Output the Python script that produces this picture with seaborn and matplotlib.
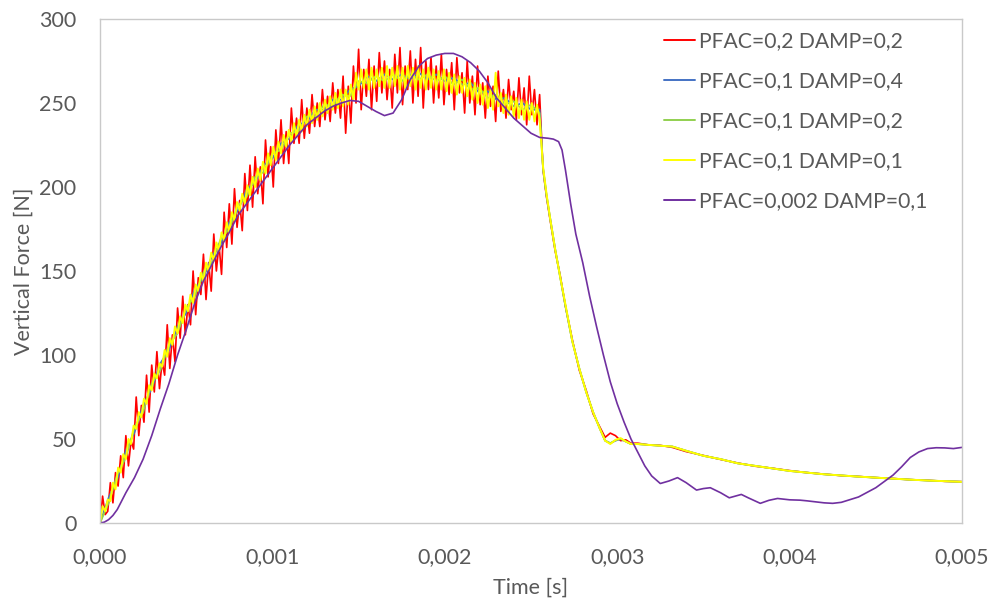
import numpy as np
import pandas as pd
import matplotlib
matplotlib.use("Agg")
import matplotlib.pyplot as plt
from matplotlib.ticker import MultipleLocator, FuncFormatter
from matplotlib.lines import Line2D
import seaborn as sns

# ---------------------------------------------------------------------------
# Simulation output: vertical contact force vs. time for five PFAC/DAMP runs
# ---------------------------------------------------------------------------
labels = ["PFAC=0,2 DAMP=0,2", "PFAC=0,1 DAMP=0,4", "PFAC=0,1 DAMP=0,2",
          "PFAC=0,1 DAMP=0,1", "PFAC=0,002 DAMP=0,1"]
colors = ["#FF0000", "#4472C4", "#92D050", "#FFFF00", "#7030A0"]
widths = [1.2, 1.3, 1.3, 1.4, 1.2]

# loading phase of the oscillating runs, written every 15 microseconds (0 .. 2.55 ms)
dt_fine = 1.5e-5
t_fine = np.round(np.arange(171) * dt_fine, 7)

f_pfac02_damp02 = [
    0, 16, 5, 7, 24, 12, 30, 22, 40, 27,
    52, 34, 49, 44, 75, 52, 70, 60, 88, 66,
    94, 78, 102, 80, 96, 88, 118, 92, 112, 96,
    128, 110, 135, 112, 130, 118, 150, 124, 146, 136,
    160, 133, 155, 138, 172, 150, 166, 148, 185, 164,
    190, 166, 199, 176, 192, 174, 208, 186, 213, 188,
    218, 196, 212, 190, 228, 206, 224, 200, 234, 214,
    240, 214, 233, 214, 247, 226, 241, 226, 252, 229,
    247, 232, 255, 236, 250, 236, 258, 240, 254, 239,
    262, 244, 258, 241, 266, 232, 260, 238, 272, 250,
    282, 246, 270, 254, 276, 246, 272, 251, 280, 256,
    275, 252, 270, 247, 279, 256, 283, 249, 272, 258,
    281, 250, 276, 254, 283, 247, 275, 258, 277, 250,
    272, 253, 279, 249, 270, 255, 274, 246, 277, 256,
    268, 244, 275, 250, 266, 243, 272, 249, 262, 241,
    266, 248, 260, 239, 269, 245, 258, 241, 264, 246,
    257, 240, 265, 243, 259, 237, 266, 243, 258, 237,
    255,
]

f_pfac01_damp01 = [
    0, 10, 7, 14, 13, 24, 20, 33, 30, 41,
    38, 50, 47, 58, 56, 66, 63, 74, 71, 82,
    79, 89, 86, 95, 93, 103, 99, 110, 106, 117,
    113, 123, 119, 130, 126, 136, 131, 142, 138, 149,
    144, 155, 150, 161, 156, 167, 162, 173, 168, 179,
    173, 185, 180, 191, 186, 196, 190, 201, 195, 206,
    200, 211, 204, 215, 208, 220, 213, 224, 216, 227,
    220, 231, 224, 234, 227, 238, 230, 240, 233, 243,
    236, 246, 238, 248, 240, 250, 242, 252, 244, 254,
    246, 256, 247, 258, 248, 258, 249, 261, 252, 268,
    258, 270, 259, 270, 258, 271, 259, 270, 260, 271,
    259, 272, 259, 271, 260, 272, 258, 271, 259, 272,
    260, 271, 258, 272, 259, 270, 258, 271, 259, 270,
    258, 269, 258, 270, 257, 268, 256, 267, 255, 266,
    256, 265, 254, 264, 252, 262, 250, 261, 249, 260,
    247, 258, 246, 268, 248, 256, 244, 255, 243, 254,
    242, 253, 241, 252, 240, 251, 240, 250, 239, 249,
    240,
]

# the two smoother runs, written every 50 microseconds (0 .. 2.55 ms)
dt_coarse = 5e-5
t_coarse = np.round(np.arange(52) * dt_coarse, 7)

f_pfac01_damp04 = [
    0, 15, 26, 43, 54, 70, 80, 95, 103, 117,
    125, 139, 146, 159, 166, 179, 186, 198, 203, 213,
    217, 226, 229, 237, 239, 246, 246, 252, 252, 258,
    260, 266, 263, 267, 264, 267, 264, 268, 264, 267,
    263, 265, 261, 262, 256, 257, 252, 253, 248, 250,
    246, 246,
]

f_pfac01_damp02 = [
    0, 12, 29, 39, 57, 66, 83, 91, 106, 113,
    128, 135, 149, 155, 169, 175, 189, 194, 206, 209,
    220, 222, 232, 233, 242, 242, 249, 248, 255, 254,
    263, 262, 266, 263, 267, 263, 267, 264, 267, 263,
    266, 261, 264, 258, 259, 253, 255, 249, 251, 246,
    249, 244,
]

# unloading phase shared by the four PFAC >= 0.1 runs
t_tail = [0.00257, 0.00259, 0.00261, 0.00264, 0.00267, 0.0027, 0.00274, 0.00278,
          0.00282, 0.00286, 0.0029, 0.00293, 0.00296, 0.00299, 0.00302, 0.00305,
          0.00308, 0.00312, 0.00318, 0.00325, 0.00332, 0.0034, 0.0035, 0.0036,
          0.0037, 0.0038, 0.0039, 0.004, 0.0041, 0.0042, 0.0043, 0.0044, 0.0045,
          0.0046, 0.0047, 0.0048, 0.0049, 0.005]

tail_pfac02_damp02 = [210, 194, 181, 162, 147, 129, 109, 91, 79, 65,
                      57, 51, 53.5, 52, 49, 49.5, 47.5, 47.5, 46.5, 46.2,
                      45, 42.5, 40.2, 37.8, 35.7, 33.8, 32.6, 31.2, 30, 29.1,
                      28.2, 27.7, 27, 26.5, 25.8, 25.4, 24.8, 24.6]
tail_pfac01_damp04 = [211, 195, 182, 163, 146, 129, 108, 92, 78, 66,
                      56, 49, 47.5, 49, 50, 48.5, 47, 47, 46.5, 46,
                      45.5, 43, 40, 38, 35.5, 34, 32.5, 31, 30, 29,
                      28.3, 27.6, 27, 26.4, 25.8, 25.3, 24.9, 24.5]
tail_pfac01_damp02 = [211, 195, 182, 163, 146, 129, 108, 92, 78, 66,
                      56, 49, 47.5, 49.2, 50.2, 48.5, 47, 47, 46.5, 46,
                      45.5, 43, 40, 38, 35.5, 34, 32.5, 31, 30, 29,
                      28.3, 27.6, 27, 26.4, 25.8, 25.3, 24.9, 24.5]
tail_pfac01_damp01 = [212, 196, 182, 163, 146, 130, 108, 92, 78, 66,
                      56, 49, 47, 49.5, 50.5, 48.5, 47, 47, 46.5, 46,
                      45.5, 43, 40, 38, 35.5, 34, 32.5, 31, 30, 29,
                      28.3, 27.6, 27, 26.4, 25.8, 25.3, 24.9, 24.5]

# low-penalty run (PFAC=0.002)
t_pfac0002 = [0, 0.000025, 0.00005, 0.000075, 0.0001, 0.00015, 0.0002, 0.00025, 0.0003, 0.00035,
              0.0004, 0.00045, 0.0005, 0.00055, 0.0006, 0.00065, 0.0007, 0.00075, 0.0008, 0.00085,
              0.0009, 0.00095, 0.001, 0.00105, 0.0011, 0.00115, 0.0012, 0.00125, 0.0013, 0.00135,
              0.0014, 0.00145, 0.0015, 0.00155, 0.0016, 0.00165, 0.0017, 0.00175, 0.0018, 0.00185,
              0.0019, 0.00195, 0.002, 0.00205, 0.0021, 0.00215, 0.0022, 0.00225, 0.0023, 0.00235,
              0.0024, 0.00245, 0.0025, 0.00255, 0.0026, 0.00263, 0.00266, 0.00268, 0.0027, 0.00273,
              0.00276, 0.0028, 0.00284, 0.00288, 0.00292, 0.00296, 0.003, 0.00304, 0.00308, 0.00312,
              0.00316, 0.0032, 0.00325, 0.0033, 0.00335, 0.0034, 0.00346, 0.0035, 0.00354, 0.0036,
              0.00365, 0.00372, 0.00376, 0.00383, 0.00388, 0.00393, 0.004, 0.00406, 0.0041, 0.0042,
              0.00425, 0.0043, 0.0044, 0.0045, 0.0046, 0.00465, 0.0047, 0.00475, 0.0048, 0.00485,
              0.0049, 0.00495, 0.005]
f_pfac0002 = [0, 0.5, 2, 4.5, 8, 18, 27, 38, 52, 68,
              83, 100, 115, 131, 144, 154, 164, 173, 183, 190,
              197, 204, 211, 218, 225, 231, 237, 241, 245, 248,
              250, 251.5, 251, 248, 245, 242.5, 244, 252, 264, 272,
              276.5, 278.5, 279.5, 279.5, 277.5, 274, 269, 262, 253, 247,
              241, 236.5, 232, 229.5, 229, 228.5, 227, 222, 210, 190,
              172, 155, 135, 117, 100, 84, 71, 60, 50, 42,
              34, 28, 23.5, 25, 27, 24, 19.6, 20.5, 21, 18,
              15, 17, 15, 11.7, 13.5, 14.6, 13.8, 13.6, 13.2, 12,
              11.7, 12.3, 15.5, 21, 28.5, 33.5, 39, 42.3, 44.3, 44.8,
              44.7, 44.3, 45]

# ---------------------------------------------------------------------------
runs = {
    labels[0]: (list(t_fine) + t_tail, f_pfac02_damp02 + tail_pfac02_damp02),
    labels[1]: (list(t_coarse) + t_tail, f_pfac01_damp04 + tail_pfac01_damp04),
    labels[2]: (list(t_coarse) + t_tail, f_pfac01_damp02 + tail_pfac01_damp02),
    labels[3]: (list(t_fine) + t_tail, f_pfac01_damp01 + tail_pfac01_damp01),
    labels[4]: (t_pfac0002, f_pfac0002),
}
frames = [pd.DataFrame({"time": t, "force": f, "run": name}) for name, (t, f) in runs.items()]
df = pd.concat(frames, ignore_index=True)

sns.set_theme(style="white")
plt.rcParams["font.family"] = ["Lato", "DejaVu Sans"]

text_grey = "#595959"
frame_grey = "#C9C9C9"

fig = plt.figure(figsize=(9.94, 6.04), dpi=100)
ax = fig.add_axes([100 / 994, 81 / 604, 862 / 994, 504 / 604])

sns.lineplot(data=df, x="time", y="force", hue="run", hue_order=labels,
             palette=colors, estimator=None, sort=False, legend=False, ax=ax)
for line, lw in zip(ax.lines, widths):
    line.set_linewidth(lw)

ax.set_xlim(0, 0.005)
ax.set_ylim(0, 300)
ax.xaxis.set_major_locator(MultipleLocator(0.001))
ax.xaxis.set_minor_locator(MultipleLocator(0.0002))
ax.yaxis.set_major_locator(MultipleLocator(50))
ax.yaxis.set_minor_locator(MultipleLocator(10))
ax.xaxis.set_major_formatter(FuncFormatter(lambda v, p: f"{v:.3f}".replace(".", ",")))
ax.yaxis.set_major_formatter(FuncFormatter(lambda v, p: f"{v:.0f}"))

for spine in ax.spines.values():
    spine.set_visible(True)
    spine.set_color(frame_grey)
    spine.set_linewidth(1.0)

ax.tick_params(axis="both", which="both", direction="in", color=frame_grey,
               width=1.0, length=5, labelcolor=text_grey, labelsize=15.5)
ax.tick_params(axis="x", which="both", pad=17)
ax.tick_params(axis="y", which="both", pad=17)
ax.tick_params(axis="both", which="both", top=False, right=False)

ax.set_xlabel("Time [s]", fontsize=15.5, color=text_grey, labelpad=8)
ax.set_ylabel("Vertical Force [N]", fontsize=15.5, color=text_grey, labelpad=4)

handles = [Line2D([0], [0], color=c, lw=1.4) for c in colors]
ax.legend(handles, labels, loc="upper left", bbox_to_anchor=(664 / 994, 1 - 31 / 604),
          bbox_transform=fig.transFigure, frameon=False, fontsize=15.2,
          handlelength=1.45, handletextpad=0.22, labelspacing=0.95, borderpad=0,
          borderaxespad=0, labelcolor=text_grey)

fig.savefig("out.png", dpi=100, facecolor="white")
